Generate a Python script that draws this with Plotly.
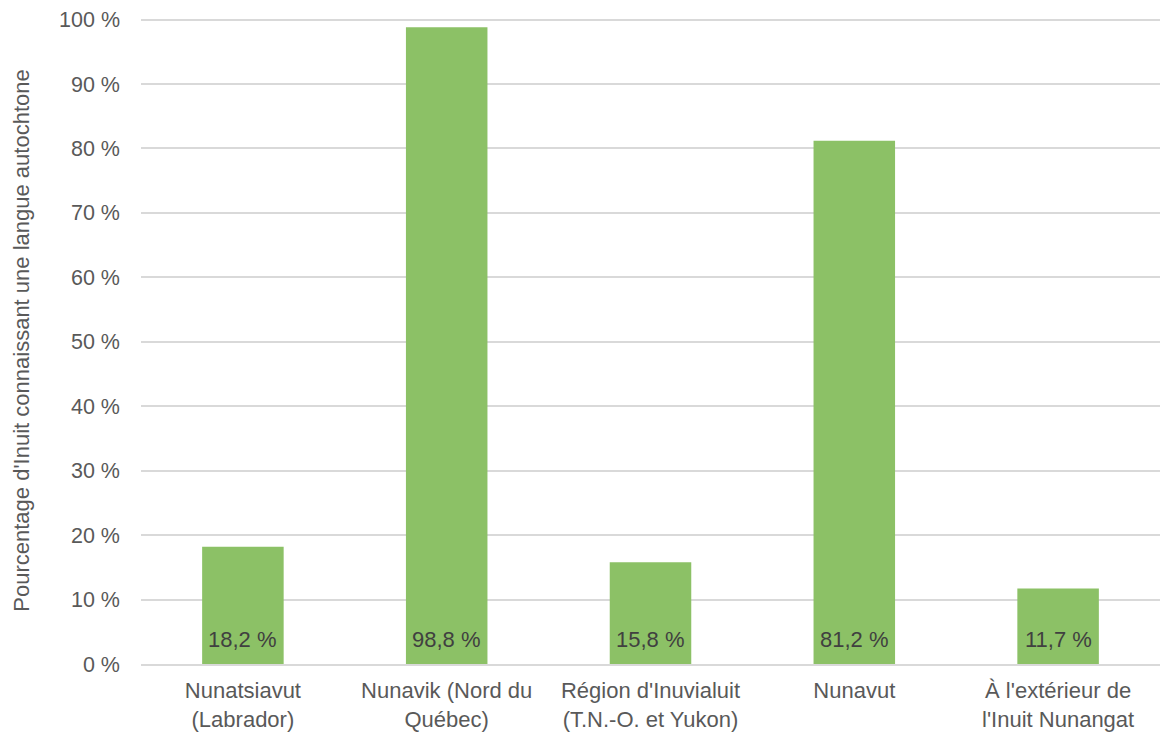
import plotly.graph_objects as go

categories = ["Nunatsiavut<br>(Labrador)", "Nunavik (Nord du<br>Québec)",
              "Région d'Inuvialuit<br>(T.N.-O. et Yukon)", "Nunavut",
              "À l'extérieur de<br>l'Inuit Nunangat"]
values = [18.2, 98.8, 15.8, 81.2, 11.7]
labels = ["18,2 %", "98,8 %", "15,8 %", "81,2 %", "11,7 %"]
tick_vals = [0, 10, 20, 30, 40, 50, 60, 70, 80, 90, 100]
tick_text = [f"{v} %" for v in tick_vals]

FONT = "Liberation Sans, Arial"

fig = go.Figure(go.Bar(
    x=categories, y=values,
    marker=dict(color="#8CC166", line=dict(width=0)),
))
for c, lab in zip(categories, labels):
    fig.add_annotation(x=c, y=0, text=lab, showarrow=False, yanchor="bottom",
                       yshift=10, font=dict(family=FONT, size=22, color="#404040"))

fig.update_layout(
    width=1170, height=734,
    margin=dict(l=133, r=18, t=9, b=78),
    paper_bgcolor="white", plot_bgcolor="white",
    bargap=0.6, showlegend=False,
    font=dict(family=FONT, size=22, color="#595959"),
)
fig.update_yaxes(range=[0, 100.4], tickvals=tick_vals, ticktext=tick_text,
                 showgrid=True, gridcolor="#D9D9D9", gridwidth=2,
                 zeroline=False, ticks="", ticklen=0, automargin=False,
                 ticklabeloverflow="allow",
                 ticklabelstandoff=20, tickfont=dict(size=21.5, color="#595959"),
                 title=dict(text="Pourcentage d'Inuit connaissant une langue autochtone",
                            font=dict(size=22, color="#595959"), standoff=23))
fig.update_xaxes(showline=True, linecolor="#D9D9D9", linewidth=2, ticks="",
                 automargin=False, ticklabelstandoff=6,
                 tickfont=dict(size=22, color="#595959"))
fig.write_html("out.html")
